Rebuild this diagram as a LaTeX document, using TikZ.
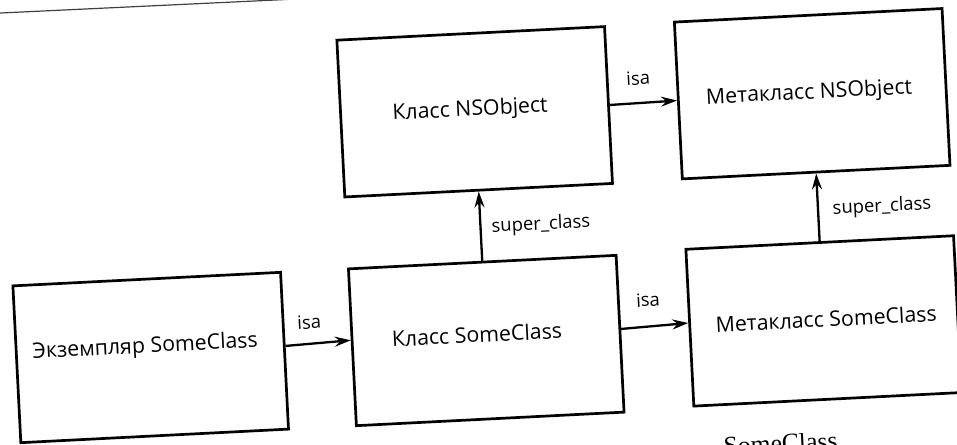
\documentclass[tikz,border=0pt]{standalone}
\usepackage{fontspec}
\setmainfont{Open Sans}
\newfontfamily\bookfont{Liberation Serif}
\usetikzlibrary{arrows.meta}

\begin{document}
\begin{tikzpicture}[x=1pt,y=1pt,
  box/.style={draw, line width=2.7pt, minimum width=268pt, minimum height=157pt, inner sep=0pt},
  boxtext/.style={anchor=base, inner sep=0pt, font=\fontsize{21.3}{25}\selectfont},
  edgelabel/.style={inner sep=0pt, font=\fontsize{18.4}{22}\selectfont},
  link/.style={line width=2.3pt, -{Stealth[length=16pt,width=10pt,inset=5.5pt]}}]
\useasboundingbox (0,0) rectangle (957,-444);
\clip (0,0) rectangle (957,-444);
\fill[white] (0,0) rectangle (957,-444);

% header rule of the page
\draw[line width=1.2pt, black!75] (-10,-13.5) -- (320,2.1);

\begin{scope}[shift={(486.25,-340.5)}, rotate=2.9, transform shape]
  % boxes
  \node[box] (inst) at (-336,0)   {};
  \node[box] (cls)  at (0,0)      {};
  \node[box] (meta) at (338,2.5)  {};
  \node[box] (nsc)  at (0,229)    {};
  \node[box] (nsm)  at (338,230)  {};

  % box titles
  \node[boxtext] (instT) at (-341,5)    {Экземпляр SomeClass};
  \node[boxtext] (clsT)  at (-9,-1.5)   {Класс SomeClass};
  \node[boxtext] (metaT) at (340.5,-3.5){Метакласс SomeClass};
  \node[boxtext] (nscT)  at (-4.4,225)  {Класс NSObject};
  \node[boxtext] (nsmT)  at (335,225)   {Метакласс NSObject};

  % connectors
  \draw[link] (inst.2.35) -- (cls.177.65);
  \draw[link] (cls.2.78)  -- (meta.178.29);
  \draw[link] (nsc.east)  -- (nsm.180.43);
  \draw[link] (cls.north) -- (nsc.south);
  \draw[link] (meta.north) -- (nsm.south);

  % connector labels
  \node[edgelabel] (l1) at (-176,27.4)  {isa};
  \node[edgelabel] (l2) at (163.6,32.3) {isa};
  \node[edgelabel] (l3) at (165,254.5)  {isa};
  \node[edgelabel] (l4) at (60.5,112.6) {super\_class};
  \node[edgelabel] (l5) at (402,113.3)  {super\_class};
\end{scope}

% start of the body text below
\node[anchor=north west, inner sep=0pt, rotate=2.9,
      font=\bookfont\fontsize{25.6}{30}\selectfont] (bodytext) at (723,-437) {SomeClass};
\end{tikzpicture}
\end{document}
